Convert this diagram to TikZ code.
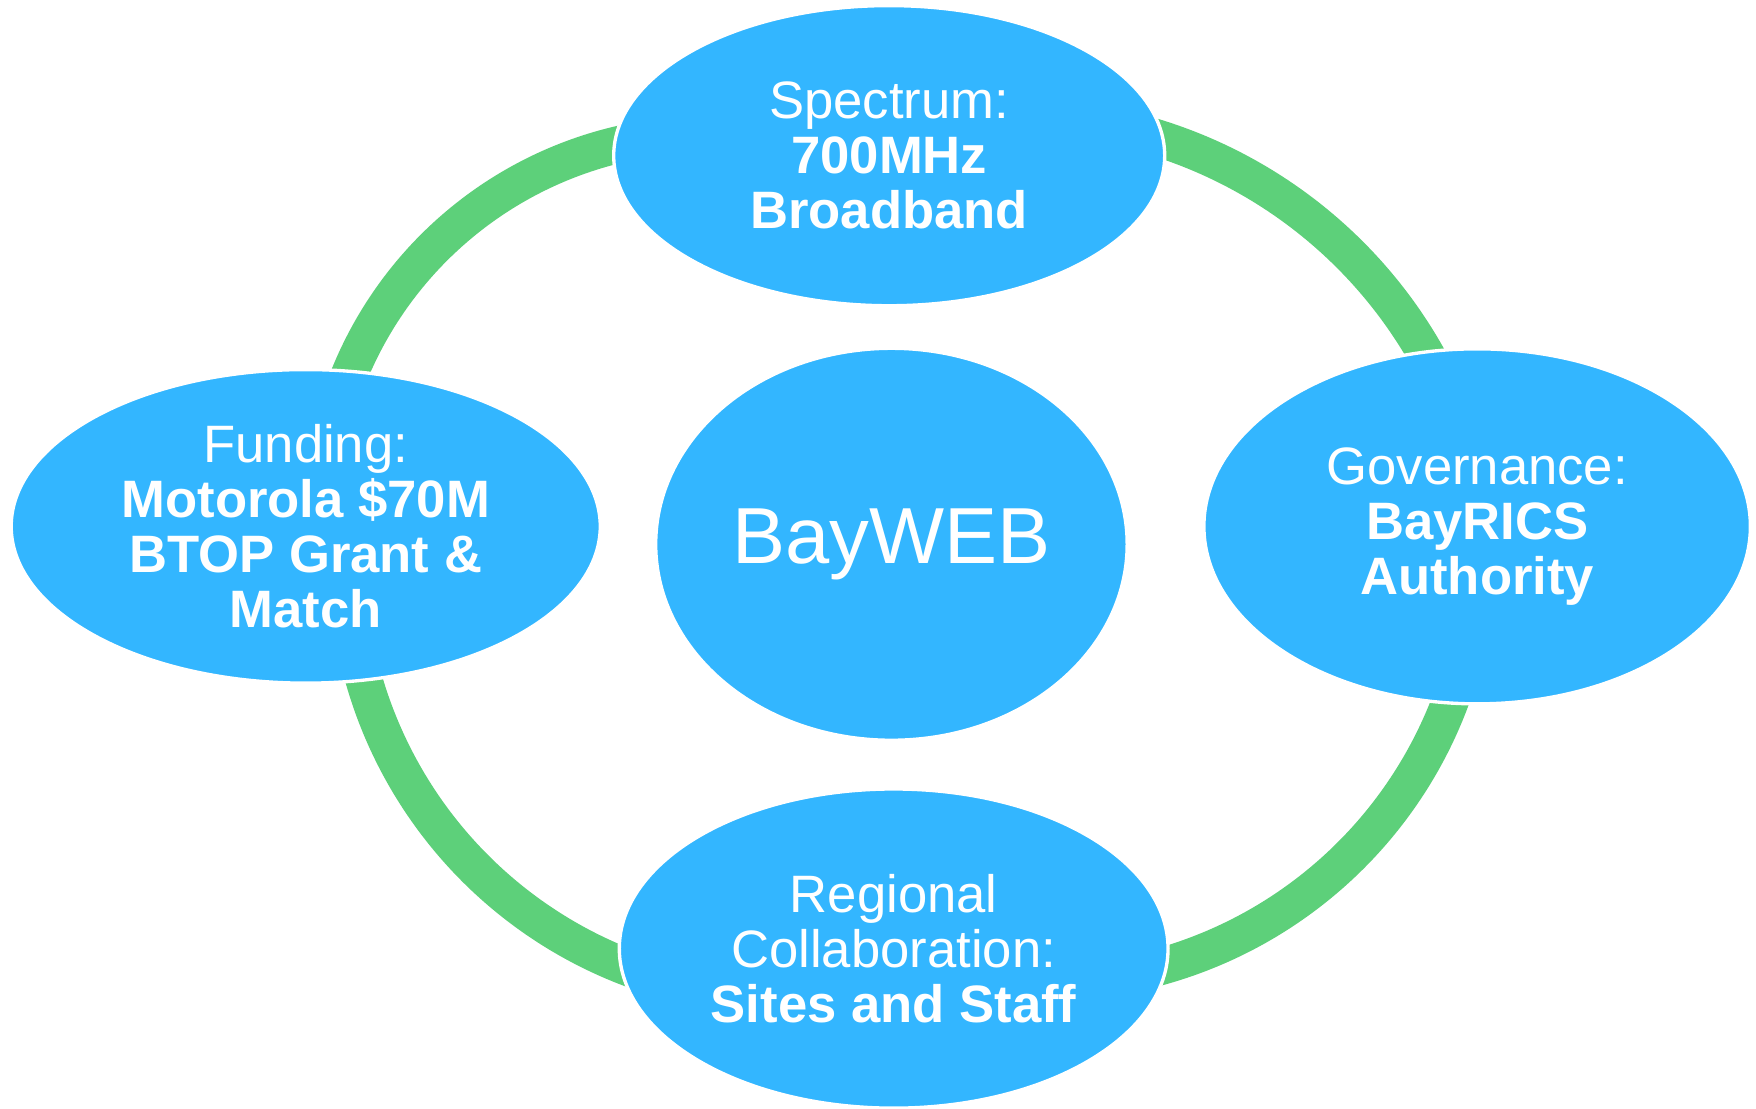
\documentclass[tikz,border=0pt]{standalone}
\usepackage{fontspec}
\setmainfont{Liberation Sans}
\usetikzlibrary{shapes.geometric}
\definecolor{bubblecol}{RGB}{51,182,255}
\definecolor{ringcol}{RGB}{93,208,122}
\begin{document}
\begin{tikzpicture}[x=1pt,y=-1pt,
  bubble/.style={ellipse, fill=bubblecol, draw=white, line width=3pt, inner sep=0pt},
  txt/.style={text=white, align=center, inner sep=0pt, font=\fontsize{47}{49}\selectfont},
  ringline/.style={draw=ringcol, line width=33pt}]
\useasboundingbox (0,0) rectangle (1568,990);
\fill[white] (0,0) rectangle (1568,990);
% arc centres
\coordinate (tlc) at (632.2,465.8);
\coordinate (trc) at (907.35,525.3);
\coordinate (brc) at (931.3,488.8);
\coordinate (blc) at (701.2,498.6);
% arcs
\draw[ringline] (tlc) ++(200.6:346.1) arc[start angle=200.6, end angle=259.3, radius=346.1];
\draw[ringline] (trc) ++(-75.4:421.4) arc[start angle=-75.4, end angle=-27.5, radius=421.4];
\draw[ringline] (brc) ++(18.8:388.8) arc[start angle=18.8, end angle=77.2, radius=388.8];
\draw[ringline] (blc) ++(166:391.5) arc[start angle=166, end angle=108.6, radius=391.5];
% bubbles
\node[bubble, minimum width=492pt, minimum height=268pt] (spec) at (794,139) {};
\node[bubble, minimum width=526pt, minimum height=280pt] (fund) at (273,470) {};
\node[bubble, minimum width=488pt, minimum height=317pt] (gov) at (1319,470) {};
\node[bubble, minimum width=490pt, minimum height=285pt] (reg) at (798,847) {};
\node[bubble, minimum width=421pt, minimum height=350pt] (bay) at (796,486) {};
% texts
\node[txt] (spect) at (spec) {Spectrum:\\\textbf{700MHz}\\\textbf{Broadband}};
\node[txt] (fundt) at (fund) {Funding:\\\textbf{Motorola \$70M}\\\textbf{BTOP Grant \&}\\\textbf{Match}};
\node[txt] (govt) at (gov) {Governance:\\\textbf{BayRICS}\\\textbf{Authority}};
\node[txt] (regt) at (reg) {Regional\\Collaboration:\\\textbf{Sites and Staff}};
\node[txt, font=\fontsize{71}{80}\selectfont] (bayt) at (bay) {BayWEB};
\end{tikzpicture}
\end{document}
